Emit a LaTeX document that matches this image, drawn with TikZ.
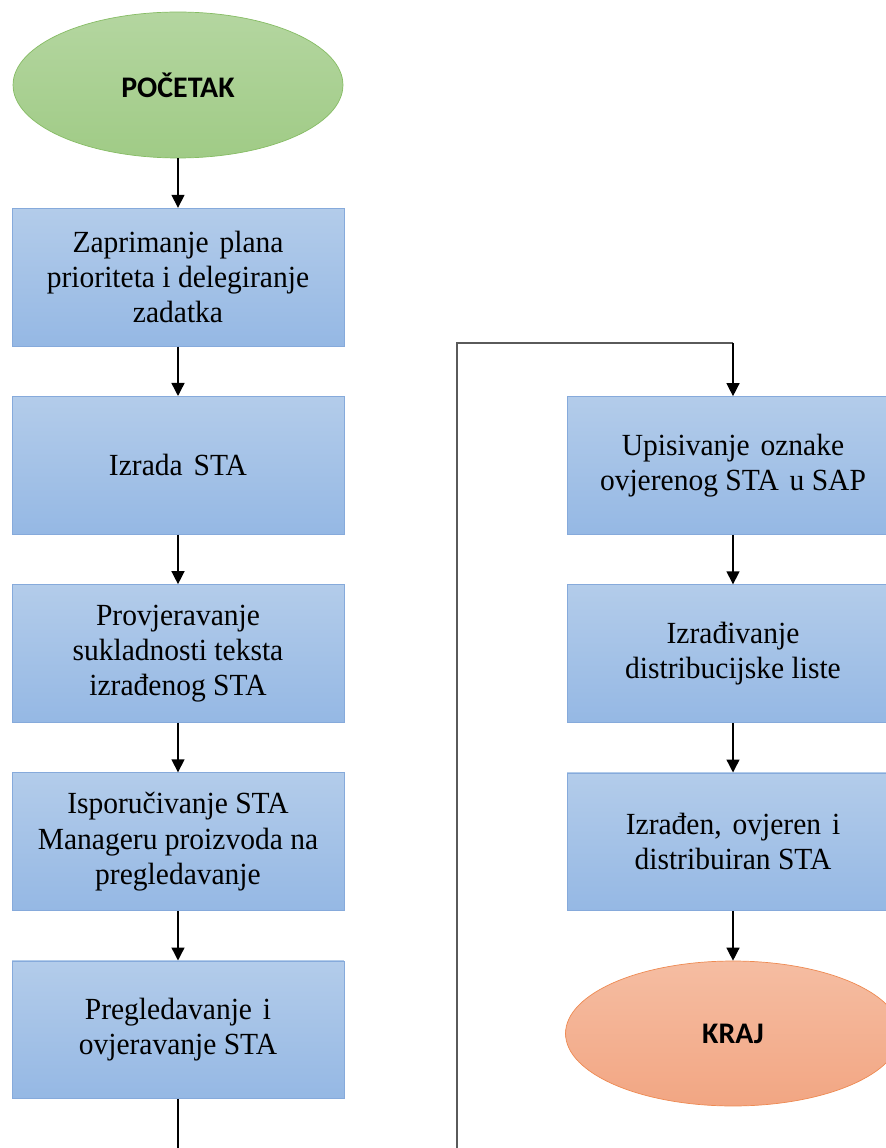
\documentclass[tikz,border=0pt]{standalone}
\usepackage{fontspec}
\setmainfont{Liberation Serif}[FakeStretch=0.96]
\newfontfamily\termfont{Carlito}
\usetikzlibrary{positioning,shapes.geometric,arrows.meta}

\definecolor{boxtop}{HTML}{B3CCEA}
\definecolor{boxbot}{HTML}{95B8E4}
\definecolor{boxline}{HTML}{86AADB}
\definecolor{starttop}{HTML}{B4D6A0}
\definecolor{startbot}{HTML}{A0CB86}
\definecolor{startline}{HTML}{86BC64}
\definecolor{endtop}{HTML}{F5BDA2}
\definecolor{endbot}{HTML}{F2A683}
\definecolor{endline}{HTML}{EE8A52}
\definecolor{loopline}{HTML}{5A5A5A}

\newcommand{\gap}{\ \hspace{2pt}}

\tikzset{
  stepbox/.style={rectangle, draw=boxline, top color=boxtop, bottom color=boxbot,
    minimum width=6.64cm, minimum height=2.76cm, align=center,
    font=\fontsize{17.5}{20}\selectfont},
  startnode/.style={ellipse, draw=startline, top color=starttop, bottom color=startbot,
    minimum width=6.6cm, minimum height=2.92cm, inner sep=0pt,
    font=\termfont\bfseries\fontsize{17}{20}\selectfont},
  endnode/.style={ellipse, draw=endline, top color=endtop, bottom color=endbot,
    minimum width=6.7cm, minimum height=2.9cm, inner sep=0pt,
    font=\termfont\bfseries\fontsize{17}{20}\selectfont},
  flow/.style={->, line width=0.8pt},
}

\begin{document}
\begin{tikzpicture}[x=0.02cm, y=-0.02cm, >={Triangle[length=2.6mm, width=2.6mm]}, node distance=0.99cm]
  \useasboundingbox (0,0) rectangle (885,1148);

  % left column
  \node[startnode] (start) at (178,85) {POČETAK};
  \node[stepbox, below=of start] (zaprimanje) {Zaprimanje\gap plana\\prioriteta i delegiranje\\zadatka};
  \node[stepbox, below=of zaprimanje] (izrada) {Izrada\gap STA};
  \node[stepbox, below=of izrada] (provjera) {Provjeravanje\\sukladnosti teksta\\izrađenog STA};
  \node[stepbox, below=of provjera] (isporuka) {Isporučivanje STA\\Manageru proizvoda na\\pregledavanje};
  \node[stepbox, below=of isporuka] (pregled) {Pregledavanje\gap i\\ovjeravanje STA};

  % right column
  \node[stepbox] (upis) at (733,465.5) {Upisivanje\gap oznake\\ovjerenog STA\gap u SAP};
  \node[stepbox, below=of upis] (distlista) {Izrađivanje\\distribucijske liste};
  \node[stepbox, below=of distlista] (gotovo) {Izrađen,\gap ovjeren\gap i\\distribuiran STA};
  \node[endnode, below=of gotovo] (kraj) {KRAJ};

  \coordinate (leftout) at (pregled.south |- 0,1148);
  \coordinate (loopin) at (457,1148);
  \coordinate (looptop) at (457,343);

  \draw[flow] (start) -- (zaprimanje);
  \draw[flow] (zaprimanje) -- (izrada);
  \draw[flow] (izrada) -- (provjera);
  \draw[flow] (provjera) -- (isporuka);
  \draw[flow] (isporuka) -- (pregled);
  \draw[line width=0.8pt] (pregled) -- (leftout);
  \draw[line width=0.8pt, loopline] (loopin) -- (looptop) -- (looptop -| upis.north);
  \draw[flow] (looptop -| upis.north) -- (upis);
  \draw[flow] (upis) -- (distlista);
  \draw[flow] (distlista) -- (gotovo);
  \draw[flow] (gotovo) -- (kraj);
\end{tikzpicture}
\end{document}
